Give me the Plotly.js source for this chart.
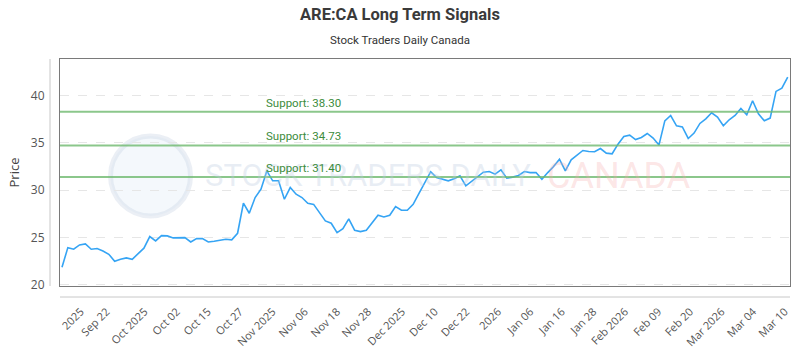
<!DOCTYPE html>
<html>
<head>
<meta charset="utf-8">
<script src="https://cdn.plot.ly/plotly-3.0.1.min.js"></script>
<style>html,body{margin:0;padding:0;background:#fff;}#chart{width:800px;height:350px;}</style>
</head>
<body>
<div id="chart"></div>
<script>
// Trading-day index (0..124) and closing prices
const prices = [
  21.84, 23.92, 23.75, 24.21, 24.31, 23.75, 23.82, 23.57, 23.22, 22.48,
  22.69, 22.83, 22.69, 23.25, 23.86, 25.09, 24.63, 25.19, 25.16, 24.95,
  24.98, 24.98, 24.52, 24.87, 24.87, 24.52, 24.60, 24.67, 24.80, 24.74,
  25.44, 28.62, 27.56, 29.22, 30.10, 32.04, 30.99, 30.99, 29.04, 30.28,
  29.57, 29.22, 28.62, 28.50, 27.56, 26.75, 26.50, 25.51, 25.93, 26.96,
  25.76, 25.62, 25.76, 26.57, 27.35, 27.17, 27.35, 28.26, 27.88, 27.88,
  28.50, 29.67, 30.74, 31.95, 31.33, 31.16, 30.99, 31.20, 31.52, 30.46,
  30.91, 31.44, 31.90, 31.97, 31.69, 32.15, 31.27, 31.38, 31.55, 31.97,
  31.86, 31.86, 31.16, 31.86, 32.50, 33.28, 32.04, 33.21, 33.74, 34.20,
  34.09, 34.06, 34.41, 33.92, 33.85, 34.87, 35.68, 35.82, 35.36, 35.57,
  36.00, 35.51, 34.77, 37.34, 37.90, 36.81, 36.70, 35.47, 36.04, 37.06,
  37.55, 38.19, 37.73, 36.81, 37.45, 37.90, 38.64, 37.98, 39.46, 38.08,
  37.34, 37.63, 40.45, 40.80, 41.97
];
const dayIndex = prices.map((_, i) => i);

const tickLabels = ["2025", "Sep 22", "Oct 2025", "Oct 02", "Oct 15", "Oct 27",
  "Nov 2025", "Nov 06", "Nov 18", "Nov 28", "Dec 2025", "Dec 10", "Dec 22",
  "2026", "Jan 06", "Jan 16", "Jan 28", "Feb 2026", "Feb 09", "Feb 20",
  "Mar 2026", "Mar 04", "Mar 10"];
const tickIndex = [3.2, 7.6, 14.1, 19.6, 24.9, 30.4, 36.0, 41.5, 47.0, 52.3,
  58.1, 63.7, 69.1, 74.5, 80.0, 85.4, 90.8, 96.2, 101.9, 107.3, 112.7, 118.1, 123.5];

const supportLevels = [38.30, 34.73, 31.40];
const supportLabels = supportLevels.map(v => "Support: " + v.toFixed(2));

const titleText = "ARE:CA Long Term Signals";
const subtitleText = "Stock Traders Daily Canada";

const trace = {
  x: dayIndex,
  y: prices,
  type: "scatter",
  mode: "lines",
  line: {color: "#35a4f4", width: 1.6},
  hoverinfo: "y",
  showlegend: false
};

const shapes = [];
// watermark logo ring
shapes.push({type: "circle", layer: "below", xref: "paper", yref: "paper",
  xsizemode: "pixel", ysizemode: "pixel", xanchor: 0.124, yanchor: 0.485,
  x0: -40, x1: 40, y0: -40, y1: 40,
  line: {color: "rgba(205,215,230,0.4)", width: 5}, fillcolor: "rgba(220,232,246,0.3)"});
supportLevels.forEach(v => {
  shapes.push({type: "line", xref: "paper", yref: "y", x0: 0, x1: 1, y0: v, y1: v,
    line: {color: "rgba(110,185,110,0.8)", width: 2}});
});
// detached axis lines
shapes.push({type: "line", xref: "paper", yref: "paper", xsizemode: "pixel", xanchor: 0,
  x0: -10, x1: -10, y0: 0, y1: 1, line: {color: "#c8c8c8", width: 1}});
shapes.push({type: "line", xref: "paper", yref: "paper", ysizemode: "pixel", yanchor: 0,
  y0: -11, y1: -11, x0: 0, x1: 1, line: {color: "#c8c8c8", width: 1}});

const annotations = [];
annotations.push({xref: "paper", yref: "paper", x: 0.196, y: 0.485, xanchor: "left", yanchor: "middle",
  text: "STOCK TRADERS DAILY", showarrow: false,
  font: {family: "Liberation Sans Narrow, Roboto", size: 31, color: "rgba(190,205,225,0.35)"}});
annotations.push({xref: "paper", yref: "paper", x: 0.664, y: 0.485, xanchor: "left", yanchor: "middle",
  text: "CANADA", showarrow: false,
  font: {family: "Roboto, Liberation Sans", size: 36, color: "rgba(245,170,170,0.3)"}});
supportLevels.forEach((v, i) => {
  annotations.push({xref: "paper", yref: "y", x: 0.279, y: v, xanchor: "left", yanchor: "middle",
    yshift: 9, text: supportLabels[i], showarrow: false,
    font: {family: "Roboto, Open Sans", size: 11.5, color: "#3c8c3c"}});
});
// title + subtitle, centred on the page
annotations.push({xref: "paper", yref: "paper", x: 0.466, y: 1.194, xanchor: "center", yanchor: "middle",
  text: "<b>" + titleText + "</b>", showarrow: false,
  font: {family: "Roboto, Open Sans", size: 16.5, color: "#3a3a3a"}});
annotations.push({xref: "paper", yref: "paper", x: 0.466, y: 1.084, xanchor: "center", yanchor: "middle",
  text: subtitleText, showarrow: false,
  font: {family: "Roboto, Open Sans", size: 11.5, color: "#333"}});

const layout = {
  width: 800, height: 350,
  margin: {l: 60, r: 10, t: 59, b: 64},
  paper_bgcolor: "#ffffff", plot_bgcolor: "#ffffff",
  xaxis: {
    range: [-0.34, 124.39], tickmode: "array", tickvals: tickIndex, ticktext: tickLabels,
    tickangle: -45, ticks: "outside", ticklen: 14, tickcolor: "rgba(0,0,0,0)",
    tickfont: {family: "Open Sans", size: 11, color: "#555"},
    showgrid: false, zeroline: false,
    showline: true, mirror: true, linecolor: "#7a7a7a", linewidth: 1
  },
  yaxis: {
    range: [19.86, 43.88], tickvals: [20, 25, 30, 35, 40],
    ticks: "outside", ticklen: 12, tickcolor: "rgba(0,0,0,0)",
    tickfont: {family: "Open Sans", size: 12, color: "#555"},
    showgrid: true, gridcolor: "#e6e6e6", griddash: "dash", gridwidth: 1,
    zeroline: false, showline: true, mirror: true, linecolor: "#7a7a7a", linewidth: 1,
    title: {text: "Price", standoff: 8, font: {family: "Open Sans", size: 13, color: "#444"}}
  },
  shapes: shapes,
  annotations: annotations
};

Plotly.newPlot("chart", [trace], layout, {displayModeBar: false, staticPlot: true});
</script>
</body>
</html>
